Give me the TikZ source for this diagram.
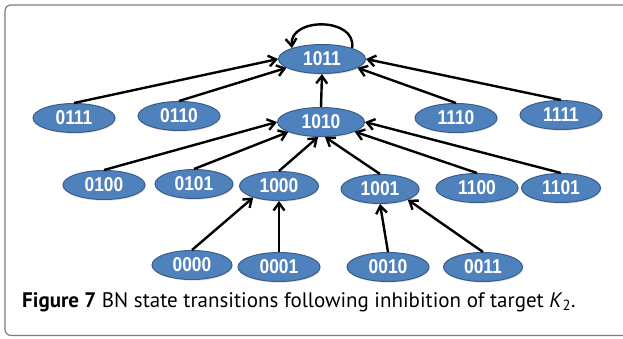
\documentclass[tikz,border=0pt]{standalone}
\usepackage{fontspec}
\setmainfont{PT Sans}
\newfontfamily\numfont[FakeStretch=0.87]{Liberation Sans}
\usetikzlibrary{arrows.meta,shapes.geometric,shadows}
\definecolor{nodefill}{RGB}{79,129,189}
\definecolor{nodeline}{RGB}{56,93,138}
\definecolor{framegray}{RGB}{125,125,125}
\begin{document}
\begin{tikzpicture}[x=1pt,y=-1pt,
  st/.style={ellipse,draw=nodeline,line width=1pt,fill=nodefill,
    minimum width=82pt,minimum height=29pt,inner sep=0pt,text=white,
    drop shadow={shadow xshift=0.8pt,shadow yshift=-1.2pt,opacity=0.25},
    font=\numfont\bfseries\fontsize{20}{20}\selectfont},
  wide/.style={minimum width=87pt},
  arr/.style={line width=2.4pt,black,-{Straight Barb[length=7.5pt,width=11pt]}}]
\useasboundingbox (0,0) rectangle (623,338);
\clip (0,0) rectangle (623,338);
\draw[framegray,line width=1.2pt,rounded corners=6pt] (5,5) rectangle (650,335.5);

% row 1
\node[st,wide] (n1011) at (322,59) {1011};
% row 2
\node[st] (n0111) at (74,118) {0111};
\node[st] (n0110) at (179,116) {0110};
\node[st,wide] (n1010) at (321,122) {1010};
\node[st] (n1110) at (456,118) {1110};
\node[st] (n1111) at (561,115) {1111};
% row 3
\node[st] (n0100) at (104,185) {0100};
\node[st,minimum width=78pt] (n0101) at (194,184) {0101};
\node[st,minimum width=79pt] (n1000) at (279,186) {1000};
\node[st,minimum width=78pt] (n1001) at (380,189) {1001};
\node[st] (n1100) at (477,188) {1100};
\node[st,minimum width=79pt] (n1101) at (561,188) {1101};
% row 4
\node[st,minimum width=80pt] (n0000) at (192,265) {0000};
\node[st] (n0001) at (279,267) {0001};
\node[st] (n0010) at (388,267) {0010};
\node[st,minimum width=79pt] (n0011) at (483,267) {0011};

% edges to 1011
\draw[arr] (n0111.north) -- (n1011.west);
\draw[arr] (n0110.north) -- (n1011.194);
\draw[arr] (n1010.north) -- (n1011.south);
\draw[arr] (n1110.north) -- (n1011.346);
\draw[arr] (n1111.north) -- (n1011.east);
\draw[arr] (n1011.20) .. controls (357,17) and (289,17) .. (n1011.160);
% edges to 1010
\draw[arr] (n0100.north) -- (n1010.west);
\draw[arr] (n0101.north) -- (n1010.197);
\draw[arr] (n1000.north) -- (n1010.259);
\draw[arr] (n1001.north) -- (n1010.285);
\draw[arr] (n1100.north) -- (n1010.344);
\draw[arr] (n1101.north) -- (n1010.east);
% edges to 1000 / 1001
\draw[arr] (n0000.north) -- (n1000.204);
\draw[arr] (n0001.north) -- (n1000.south);
\draw[arr] (n0010.north) -- (n1001.south);
\draw[arr] (n0011.north) -- (n1001.339);

\node[anchor=base west,inner sep=0pt,font=\fontsize{21}{24}\selectfont] (cap) at (22,307)
  {\textbf{Figure 7} BN state transitions following inhibition of target \textit{K}\textsubscript{2}.};
\end{tikzpicture}
\end{document}
